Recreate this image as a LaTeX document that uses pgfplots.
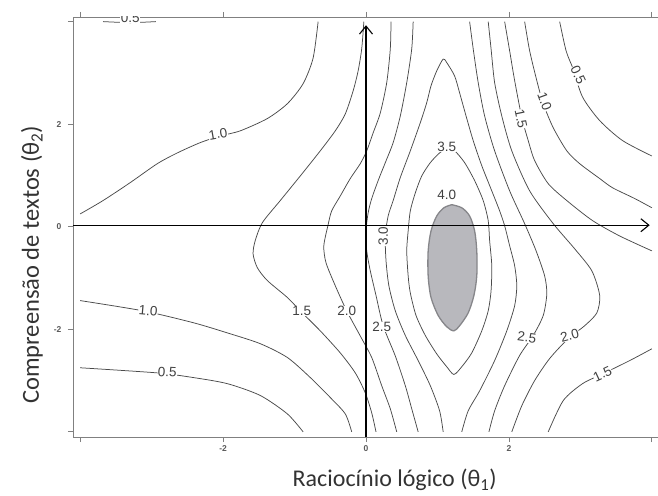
\documentclass[border=0pt]{standalone}
\usepackage{fontspec}
\setmainfont{Liberation Sans}
\newfontfamily\carlito{Carlito}
\usepackage{pgfplots}
\pgfplotsset{compat=1.18}
\usetikzlibrary{arrows.meta}
\definecolor{cl}{HTML}{4A4A4A}
\definecolor{frm}{HTML}{808080}
\definecolor{fillg}{HTML}{B8B8BD}
\definecolor{edgeg}{HTML}{86868A}
\pgfplotsset{ct/.style={cl, line width=0.75pt, smooth, tension=0.45, mark=none}}
\tikzset{lb/.style={font=\fontsize{13.5}{14}\selectfont, text=black!75, fill=white, inner sep=0.3pt}}
\begin{document}
\begin{tikzpicture}
\begin{axis}[
  at={(0,0)}, anchor=south west,
  scale only axis, width=586pt, height=420pt,
  xmin=-4.1, xmax=4.1, ymin=-4.1, ymax=4.09,
  axis line style={frm, line width=0.8pt},
  xtick={-4,-2,0,2,4}, xticklabels={,-2,0,2,},
  ytick={-4,-2,0,2,4}, yticklabels={,-2,0,2,},
  xtick pos=both, ytick pos=left, tick align=outside,
  major tick length=5pt,
  tick style={frm, line width=0.8pt},
  ticklabel style={font=\bfseries\fontsize{8.5}{9}\selectfont, text=black!65},
  yticklabel style={xshift=-3pt},
  xlabel={\carlito Raciocínio lógico (θ\textsubscript{1})},
  ylabel={\carlito Compreensão de textos (θ\textsubscript{2})},
  xlabel style={at={(axis description cs:0.549,0)}, anchor=center, yshift=-43pt, font=\fontsize{24}{26}\selectfont, text=black!80},
  ylabel style={at={(axis description cs:0,0.41)}, anchor=center, yshift=41pt, font=\fontsize{24.5}{26}\selectfont, text=black!80},
  clip=true,
]
% 4.0 region
\addplot[fill=fillg, draw=edgeg, line width=1.3pt, smooth, tension=0.5] coordinates {
(1.20,0.43) (1.34,0.37) (1.45,0.21) (1.52,-0.08) (1.55,-0.47) (1.55,-0.96) (1.51,-1.34) (1.43,-1.68) (1.31,-1.93) (1.23,-2.03) (1.13,-1.95) (1.01,-1.73) (0.91,-1.38) (0.87,-0.96) (0.87,-0.47) (0.91,-0.08) (0.99,0.21) (1.09,0.37) (1.20,0.43)};
% 0.5 upper left
\addplot[ct] coordinates {(-3.68,4.0) (-3.3,3.98) (-2.94,4.0)};
% 1.0 upper left
\addplot[ct] coordinates {(-4.0,0.25) (-3.68,0.51) (-3.30,0.86) (-2.92,1.23) (-2.64,1.44) (-2.32,1.64) (-2.04,1.77) (-1.76,1.87) (-1.38,2.11) (-1.10,2.40) (-0.88,2.79) (-0.74,3.29) (-0.67,4.0)};
% 1.5 left
\addplot[ct] coordinates {(-0.03,4.0) (-0.06,3.47) (-0.11,3.04) (-0.18,2.65) (-0.29,2.20) (-0.43,1.87) (-0.64,1.48) (-0.92,0.99) (-1.20,0.51) (-1.45,0.08) (-1.55,-0.27) (-1.58,-0.53) (-1.52,-0.80) (-1.38,-1.05) (-1.10,-1.38) (-0.92,-1.64) (-0.64,-2.03) (-0.36,-2.46) (-0.15,-2.85) (-0.01,-3.24) (0.08,-3.63) (0.14,-4.0)};
% 2.0 left
\addplot[ct] coordinates {(0.35,4.0) (0.34,3.47) (0.29,2.81) (0.20,2.22) (0.10,1.83) (0.01,1.48) (-0.08,1.23) (-0.22,0.94) (-0.36,0.60) (-0.48,0.31) (-0.53,0.04) (-0.59,-0.37) (-0.56,-0.70) (-0.43,-1.15) (-0.27,-1.64) (-0.08,-2.13) (0.08,-2.55) (0.22,-3.10) (0.34,-3.55) (0.43,-4.0)};
% 2.5 left
\addplot[ct] coordinates {(0.66,4.0) (0.64,3.47) (0.57,2.81) (0.48,2.16) (0.38,1.64) (0.27,1.25) (0.17,0.90) (0.08,0.55) (0.03,0.27) (0.0,-0.08) (0.01,-0.47) (0.06,-0.86) (0.14,-1.34) (0.24,-1.93) (0.41,-2.52) (0.55,-3.10) (0.64,-3.55) (0.73,-4.0)};
% 3.0
\addplot[ct] coordinates {(1.08,-4.0) (1.03,-3.59) (0.90,-3.10) (0.73,-2.61) (0.55,-2.12) (0.41,-1.64) (0.32,-1.15) (0.28,-0.66) (0.27,-0.18) (0.31,0.21) (0.38,0.51) (0.48,0.96) (0.62,1.48) (0.76,2.03) (0.85,2.42) (0.91,2.75) (0.99,3.04) (1.08,3.27) (1.13,3.20) (1.24,2.94) (1.31,2.61) (1.40,2.16) (1.50,1.68) (1.62,1.19) (1.76,0.70) (1.87,0.31) (1.94,0.02) (2.01,-0.37) (2.08,-0.76) (2.11,-1.15) (2.08,-1.54) (1.97,-2.03) (1.80,-2.61) (1.59,-3.20) (1.43,-3.59) (1.34,-4.0)};
% 3.5 loop
\addplot[ct] coordinates {(1.13,1.52) (1.03,1.44) (0.90,1.25) (0.78,0.99) (0.69,0.66) (0.62,0.31) (0.59,-0.08) (0.57,-0.47) (0.59,-0.96) (0.62,-1.29) (0.70,-1.73) (0.83,-2.12) (0.99,-2.48) (1.13,-2.73) (1.23,-2.88) (1.34,-2.73) (1.48,-2.46) (1.62,-2.03) (1.71,-1.64) (1.75,-1.25) (1.76,-0.76) (1.73,-0.27) (1.71,0.12) (1.64,0.51) (1.52,0.90) (1.38,1.25) (1.24,1.48) (1.13,1.52)};
% 2.5 right
\addplot[ct] coordinates {(1.45,4.0) (1.50,3.47) (1.57,2.81) (1.66,2.16) (1.80,1.48) (2.01,0.70) (2.22,0.06) (2.38,-0.47) (2.50,-0.96) (2.53,-1.31) (2.48,-1.73) (2.34,-2.12) (2.15,-2.51) (1.94,-3.10) (1.80,-3.59) (1.72,-4.0)};
% 2.0 right
\addplot[ct] coordinates {(1.71,4.0) (1.75,3.47) (1.80,2.81) (1.90,2.16) (2.04,1.48) (2.29,0.70) (2.62,0.06) (2.92,-0.43) (3.16,-0.86) (3.27,-1.34) (3.23,-1.68) (3.06,-1.93) (2.83,-2.18) (2.57,-2.57) (2.36,-3.00) (2.18,-3.49) (2.04,-4.0)};
% 1.5 upper right
\addplot[ct] coordinates {(1.94,4.0) (2.01,3.43) (2.08,2.85) (2.18,2.13) (2.27,1.68) (2.36,1.29) (2.55,0.84) (2.81,0.51) (3.17,0.12) (3.55,-0.18) (4.0,-0.47)};
% 1.0 upper right
\addplot[ct] coordinates {(2.22,4.0) (2.29,3.43) (2.39,2.85) (2.48,2.40) (2.62,1.93) (2.81,1.48) (2.99,1.23) (3.27,0.94) (3.45,0.76) (3.76,0.55) (4.0,0.37)};
% 0.5 upper right
\addplot[ct] coordinates {(2.71,4.0) (2.80,3.43) (2.90,3.07) (3.03,2.53) (3.27,2.07) (3.59,1.68) (4.0,1.38)};
% 1.5 lower right
\addplot[ct] coordinates {(2.55,-4.0) (2.76,-3.39) (3.03,-3.06) (3.31,-2.87) (3.69,-2.61) (4.0,-2.38)};
% 1.0 lower left
\addplot[ct] coordinates {(-4.0,-1.44) (-3.12,-1.64) (-2.42,-1.87) (-1.94,-2.07) (-1.48,-2.28) (-1.10,-2.55) (-0.78,-2.94) (-0.50,-3.33) (-0.29,-3.65) (-0.20,-4.0)};
% 0.5 lower left
\addplot[ct] coordinates {(-4.0,-2.75) (-2.92,-2.85) (-2.42,-2.94) (-1.94,-3.06) (-1.48,-3.29) (-1.10,-3.65) (-0.88,-4.0)};
% labels
\node[lb, rotate=10] at (axis cs:-2.07,1.81) {1.0};
\node[lb, rotate=-5] at (axis cs:-3.05,-1.64) {1.0};
\node[lb, rotate=-3] at (axis cs:-2.78,-2.83) {0.5};
\node[lb] at (axis cs:-0.90,-1.64) {1.5};
\node[lb] at (axis cs:-0.27,-1.64) {2.0};
\node[lb] at (axis cs:0.22,-1.95) {2.5};
\node[lb, rotate=90] at (axis cs:0.24,-0.18) {3.0};
\node[lb] at (axis cs:1.13,1.55) {3.5};
\node[lb] at (axis cs:1.13,0.62) {4.0};
\node[lb, rotate=-8] at (axis cs:2.25,-2.16) {2.5};
\node[lb, rotate=15] at (axis cs:2.85,-2.12) {2.0};
\node[lb, rotate=25] at (axis cs:3.31,-2.87) {1.5};
\node[lb, rotate=-65] at (axis cs:2.97,2.96) {0.5};
\node[lb, rotate=-70] at (axis cs:2.50,2.44) {1.0};
\node[lb, rotate=-78] at (axis cs:2.17,2.10) {1.5};
\begin{scope}
\clip (rel axis cs:0,0) rectangle (rel axis cs:1,1);
\node[lb] at (axis cs:-3.3,4.08) {0.5};
\end{scope}
% inner axes
\draw[black, line width=1.1pt, -{Straight Barb[length=8pt,width=13pt]}] (axis cs:-4.1,0.03) -- (axis cs:3.97,0.03);
\draw[black, line width=1.1pt, -{Straight Barb[length=8pt,width=13pt]}] (axis cs:0,-4.1) -- (axis cs:0,3.93);
\end{axis}
\pgfresetboundingbox
\useasboundingbox (-73pt,-58pt) rectangle (585pt,437pt);
\end{tikzpicture}
\end{document}
